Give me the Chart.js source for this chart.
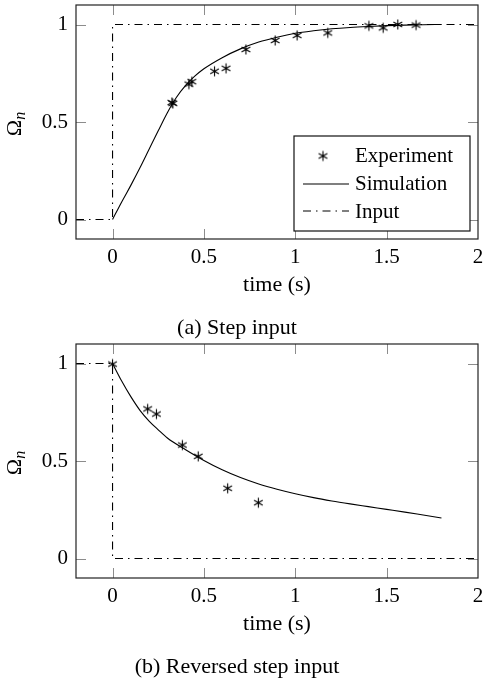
<!DOCTYPE html>
<html>
<head>
<meta charset="utf-8">
<script src="https://cdn.jsdelivr.net/npm/chart.js@4"></script>
<style>
  body { margin: 0; background: #fff; }
  .panel { position: absolute; left: 0; width: 484px; height: 339px; }
</style>
</head>
<body>
<div class="panel" style="top:0"><canvas id="stepChart"></canvas></div>
<div class="panel" style="top:339px"><canvas id="reverseChart"></canvas></div>
<script>
// tick labels
const xTicks = [0, 0.5, 1, 1.5, 2];
const yTicks = [0, 0.5, 1];

// (a) step input
const stepExpTime = [0.325, 0.33, 0.418, 0.434, 0.558, 0.621, 0.73, 0.89, 1.01, 1.178, 1.403, 1.481, 1.561, 1.661];
const stepExpOmega = [0.6, 0.595, 0.694, 0.707, 0.76, 0.775, 0.872, 0.918, 0.944, 0.957, 0.993, 0.983, 1.0, 0.997];
const stepSimTime = [0, 0.05, 0.1, 0.15, 0.2, 0.25, 0.3, 0.35, 0.4, 0.45, 0.5, 0.6, 0.7, 0.8, 0.9, 1.0, 1.1, 1.2, 1.3, 1.4, 1.5, 1.6, 1.7, 1.8];
const stepSimOmega = [0, 0.09, 0.175, 0.265, 0.36, 0.455, 0.548, 0.627, 0.688, 0.735, 0.773, 0.83, 0.875, 0.91, 0.935, 0.955, 0.968, 0.978, 0.985, 0.99, 0.994, 0.997, 0.999, 1.0];
const stepInputTime = [-0.2, 0, 0, 2];
const stepInputOmega = [0, 0, 1, 1];

// (b) reversed step input
const revExpTime = [0, 0.192, 0.24, 0.382, 0.469, 0.63, 0.798];
const revExpOmega = [0.997, 0.767, 0.741, 0.582, 0.524, 0.36, 0.286];
const revSimTime = [0, 0.05, 0.1, 0.15, 0.2, 0.25, 0.3, 0.4, 0.5, 0.6, 0.7, 0.8, 0.9, 1.0, 1.1, 1.2, 1.3, 1.4, 1.5, 1.6, 1.7, 1.8];
const revSimOmega = [1.0, 0.91, 0.83, 0.76, 0.705, 0.66, 0.618, 0.558, 0.503, 0.455, 0.415, 0.382, 0.355, 0.332, 0.312, 0.295, 0.28, 0.266, 0.252, 0.238, 0.223, 0.208];
const revInputTime = [-0.2, 0, 0, 2];
const revInputOmega = [1, 1, 0, 0];

const serif = "'Liberation Serif', 'Times New Roman', serif";
const dashDot = [8, 5, 1.5, 5];

// asterisk marker (three crossing strokes)
const asterisk = document.createElement("canvas");
asterisk.width = 13;
asterisk.height = 13;
(() => {
  const c = asterisk.getContext("2d");
  c.strokeStyle = "#000";
  c.lineWidth = 1.1;
  c.beginPath();
  [90, 30, 150].forEach((deg) => {
    const a = (deg * Math.PI) / 180;
    const dx = Math.cos(a) * 5, dy = Math.sin(a) * 5;
    c.moveTo(6.5 - dx, 6.5 - dy);
    c.lineTo(6.5 + dx, 6.5 + dy);
  });
  c.stroke();
})();

const toPoints = (xs, ys) => xs.map((x, i) => ({ x: x, y: ys[i] }));

// frame, inward ticks, axis titles, caption and legend
const decorPlugin = {
  id: "decor",
  afterDraw(chart, args, opts) {
    const ctx = chart.ctx;
    const a = chart.chartArea;
    const xs = chart.scales.x, ys = chart.scales.y;
    ctx.save();
    ctx.strokeStyle = "#8c8c8c";
    ctx.lineWidth = 1;
    ctx.beginPath();
    xTicks.forEach((v) => {
      const px = Math.round(xs.getPixelForValue(v)) + 0.5;
      if (px >= a.right - 1) return;
      ctx.moveTo(px, a.bottom);
      ctx.lineTo(px, a.bottom - 10);
      ctx.moveTo(px, a.top);
      ctx.lineTo(px, a.top + 10);
    });
    yTicks.forEach((v) => {
      const py = Math.round(ys.getPixelForValue(v)) + 0.5;
      ctx.moveTo(a.left, py);
      ctx.lineTo(a.left + 10, py);
      ctx.moveTo(a.right, py);
      ctx.lineTo(a.right - 10, py);
    });
    ctx.stroke();

    ctx.strokeStyle = "#222";
    ctx.lineWidth = 1.2;
    ctx.strokeRect(a.left, a.top, a.right - a.left, a.bottom - a.top);

    ctx.fillStyle = "#000";
    ctx.textAlign = "center";
    ctx.textBaseline = "alphabetic";
    ctx.font = "22px " + serif;
    ctx.fillText("time (s)", (a.left + a.right) / 2, a.bottom + 52);
    ctx.fillText(opts.caption, 237, a.bottom + 95);

    // rotated Omega_n
    ctx.save();
    ctx.translate(21, (a.top + a.bottom) / 2 + 2);
    ctx.rotate(-Math.PI / 2);
    ctx.textAlign = "left";
    ctx.font = "22px " + serif;
    const w = ctx.measureText("Ω").width;
    ctx.fillText("Ω", -w / 2 - 4, 0);
    ctx.font = "italic 16px " + serif;
    ctx.fillText("n", w / 2 - 4, 4);
    ctx.restore();

    if (opts.legend) {
      const L = 294, T = 136, R = 470, B = 231;
      ctx.fillStyle = "#fff";
      ctx.fillRect(L, T, R - L, B - T);
      ctx.strokeStyle = "#111";
      ctx.lineWidth = 1.2;
      ctx.strokeRect(L, T, R - L, B - T);
      ctx.drawImage(asterisk, 323 - 6.5, 156 - 6.5);
      ctx.strokeStyle = "#000";
      ctx.lineWidth = 1.1;
      ctx.beginPath();
      ctx.moveTo(303, 184);
      ctx.lineTo(349, 184);
      ctx.stroke();
      ctx.setLineDash(dashDot);
      ctx.beginPath();
      ctx.moveTo(303, 211);
      ctx.lineTo(349, 211);
      ctx.stroke();
      ctx.setLineDash([]);
      ctx.fillStyle = "#000";
      ctx.textAlign = "left";
      ctx.font = "21px " + serif;
      ctx.fillText("Experiment", 355, 162);
      ctx.fillText("Simulation", 355, 190);
      ctx.fillText("Input", 355, 218);
    }
    ctx.restore();
  },
};

const makeChart = (id, caption, expX, expY, simX, simY, inX, inY, legend) => {
  const ctx = document.getElementById(id).getContext("2d");
  return new Chart(ctx, {
    type: "scatter",
    data: {
      datasets: [
        {
          label: "Input",
          data: toPoints(inX, inY),
          showLine: true,
          borderColor: "#000",
          borderWidth: 1.1,
          borderDash: dashDot,
          pointRadius: 0,
        },
        {
          label: "Simulation",
          data: toPoints(simX, simY),
          showLine: true,
          borderColor: "#000",
          borderWidth: 1.1,
          pointRadius: 0,
          cubicInterpolationMode: "monotone",
        },
        {
          label: "Experiment",
          data: toPoints(expX, expY),
          showLine: false,
          pointStyle: asterisk,
        },
      ],
    },
    options: {
      responsive: true,
      maintainAspectRatio: false,
      animation: false,
      layout: { padding: { top: 4, right: 6, left: 0, bottom: 0 } },
      plugins: {
        legend: { display: false },
        tooltip: { enabled: false },
        decor: { caption: caption, legend: legend },
      },
      scales: {
        x: {
          type: "linear",
          min: -0.2,
          max: 2,
          afterBuildTicks: (s) => { s.ticks = xTicks.map((v) => ({ value: v })); },
          afterFit: (s) => { s.height = 100; s.paddingLeft = 0; s.paddingRight = 0; },
          grid: { display: false, drawTicks: false },
          border: { display: false },
          ticks: {
            padding: 6, color: "#000", font: { family: serif, size: 21 },
            maxRotation: 0, autoSkip: false, callback: (v) => String(v),
          },
        },
        y: {
          type: "linear",
          min: -0.1,
          max: 1.1,
          afterBuildTicks: (s) => { s.ticks = yTicks.map((v) => ({ value: v })); },
          afterFit: (s) => { s.width = 76; s.paddingTop = 0; s.paddingBottom = 0; },
          grid: { display: false, drawTicks: false },
          border: { display: false },
          ticks: {
            padding: 8, color: "#000", font: { family: serif, size: 21 },
            callback: (v) => String(v),
          },
        },
      },
    },
    plugins: [decorPlugin],
  });
};

makeChart("stepChart", "(a) Step input", stepExpTime, stepExpOmega, stepSimTime, stepSimOmega, stepInputTime, stepInputOmega, true);
makeChart("reverseChart", "(b) Reversed step input", revExpTime, revExpOmega, revSimTime, revSimOmega, revInputTime, revInputOmega, false);
</script>
</body>
</html>
